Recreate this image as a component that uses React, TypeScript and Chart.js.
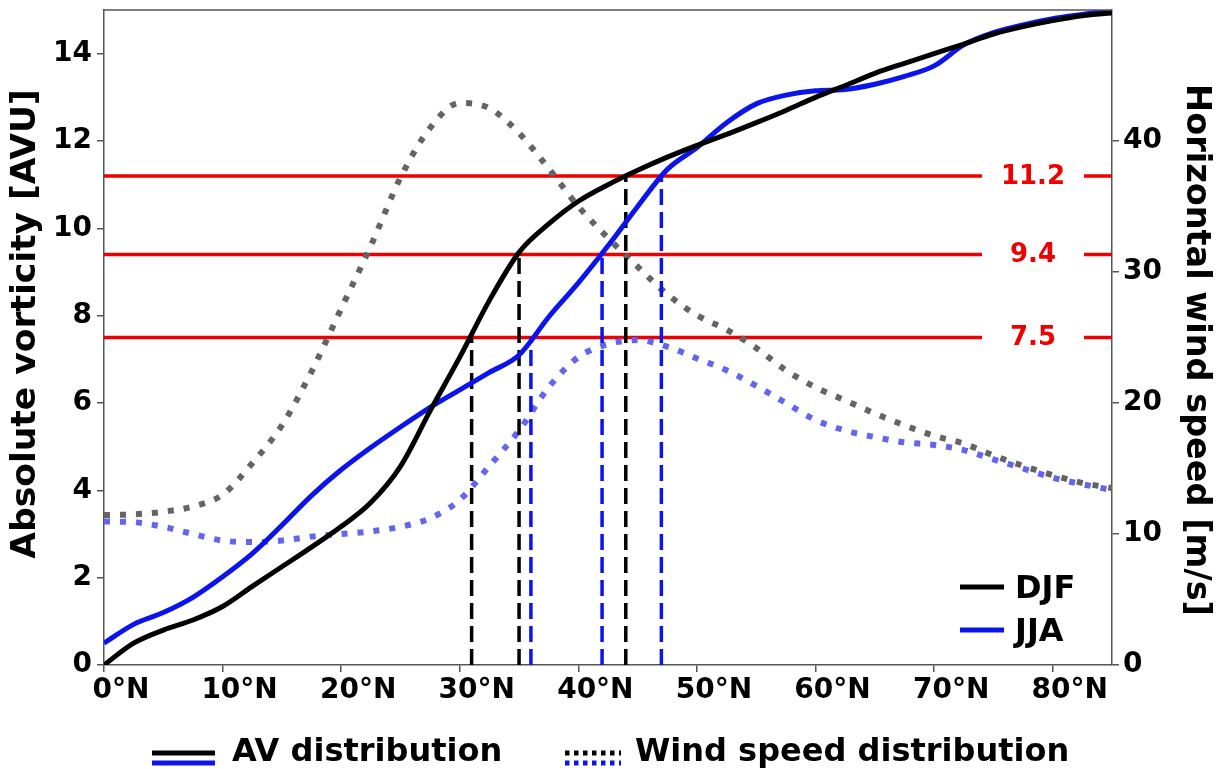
import React, { useEffect, useRef } from 'react';
import { Chart, registerables } from 'chart.js';

Chart.register(...registerables);

// ---------- data ----------
const latitudes = [0, 2.5, 5, 7.5, 10, 12.5, 15, 17.5, 20, 22.5, 25, 27.5, 30, 32.5, 35, 37.5, 40, 42.5, 45, 47.5, 50, 52.5, 55, 57.5, 60, 62.5, 65, 67.5, 70, 72.5, 75, 77.5, 80, 82.5, 85];

const djfVorticity = [0.0, 0.5, 0.8, 1.03, 1.34, 1.8, 2.25, 2.7, 3.17, 3.72, 4.55, 5.82, 7.05, 8.35, 9.45, 10.1, 10.62, 11.0, 11.33, 11.63, 11.9, 12.15, 12.42, 12.7, 13.0, 13.27, 13.55, 13.78, 14.0, 14.22, 14.45, 14.62, 14.76, 14.87, 14.93];
const jjaVorticity = [0.5, 0.93, 1.2, 1.55, 2.02, 2.55, 3.2, 3.88, 4.47, 4.98, 5.45, 5.9, 6.3, 6.7, 7.1, 7.97, 8.75, 9.6, 10.5, 11.35, 11.85, 12.42, 12.85, 13.05, 13.15, 13.18, 13.3, 13.48, 13.72, 14.2, 14.48, 14.66, 14.8, 14.9, 15.0];
const djfWind = [11.45, 11.5, 11.7, 12.1, 13.0, 15.4, 18.3, 22.4, 27.2, 32.0, 37.2, 41.0, 42.9, 42.5, 40.6, 37.9, 35.0, 32.6, 30.4, 28.3, 26.7, 25.6, 24.2, 22.5, 21.2, 20.2, 19.2, 18.3, 17.5, 16.9, 16.0, 15.2, 14.5, 13.9, 13.5];
const jjaWind = [10.95, 10.9, 10.55, 10.0, 9.5, 9.38, 9.5, 9.8, 10.0, 10.2, 10.55, 11.2, 12.6, 15.2, 17.9, 21.2, 23.5, 24.5, 24.8, 24.3, 23.4, 22.5, 21.3, 20.0, 18.7, 17.9, 17.4, 17.0, 16.8, 16.4, 15.7, 15.0, 14.3, 13.8, 13.35];

const thresholdLevels = [7.5, 9.4, 11.2];
const thresholdLabels = ['7.5', '9.4', '11.2'];
const djfCrossLat = [31, 35, 44];
const jjaCrossLat = [36, 42, 47];

const xTickValues = [0, 10, 20, 30, 40, 50, 60, 70, 80];
const yLeftTicks = [0, 2, 4, 6, 8, 10, 12, 14];
const yRightTicks = [0, 10, 20, 30, 40];

const leftTitle = 'Absolute vorticity [AVU]';
const rightTitle = 'Horizontal wind speed [m/s]';
const seasonNames = ['DJF', 'JJA'];
const bottomLegend = ['AV distribution', 'Wind speed distribution'];

// ---------- styles ----------
const FONT = "'DejaVu Sans', 'Liberation Sans', sans-serif";
const BLACK = '#000000';
const BLUE = '#0c14ee';
const GRAY_DOT = '#646464';
const BLUE_DOT = '#6464ec';
const RED = '#ee0000';
const AXIS = '#555555';

const toPoints = (xs: number[], ys: number[]) => xs.map((x, i) => ({ x, y: ys[i] }));

const overlayPlugin = {
  id: 'overlay',
  afterDatasetsDraw(chart: any) {
    const { ctx, chartArea, scales } = chart;
    ctx.save();
    ctx.font = `bold 26px ${FONT}`;
    ctx.textAlign = 'center';
    ctx.textBaseline = 'middle';
    thresholdLevels.forEach((lv, i) => {
      const y = scales.y.getPixelForValue(lv);
      const cx = chartArea.right - 79;
      ctx.fillStyle = '#ffffff';
      ctx.fillRect(cx - 51, y - 14, 102, 28);
      ctx.fillStyle = RED;
      ctx.fillText(thresholdLabels[i], cx, y + 1);
    });
    ctx.restore();
  },
  afterDraw(chart: any) {
    const { ctx, chartArea } = chart;
    ctx.save();
    // top spine
    ctx.strokeStyle = AXIS;
    ctx.lineWidth = 1.5;
    ctx.beginPath();
    ctx.moveTo(chartArea.left, chartArea.top);
    ctx.lineTo(chartArea.right, chartArea.top);
    ctx.stroke();

    // axis titles
    ctx.fillStyle = BLACK;
    ctx.textAlign = 'center';
    ctx.textBaseline = 'middle';
    ctx.save();
    ctx.font = `bold 34.5px ${FONT}`;
    ctx.translate(26, 324);
    ctx.rotate(-Math.PI / 2);
    ctx.fillText(leftTitle, 0, 0);
    ctx.restore();
    ctx.save();
    ctx.font = `bold 33.5px ${FONT}`;
    ctx.translate(1196, 350);
    ctx.rotate(Math.PI / 2);
    ctx.fillText(rightTitle, 0, 0);
    ctx.restore();

    // inner legend
    ctx.lineWidth = 5;
    ctx.setLineDash([]);
    const innerRows = [
      { y: 587, base: 598, color: BLACK },
      { y: 630, base: 641, color: BLUE },
    ];
    ctx.font = `bold 32px ${FONT}`;
    ctx.textAlign = 'left';
    ctx.textBaseline = 'alphabetic';
    innerRows.forEach((r, i) => {
      ctx.strokeStyle = r.color;
      ctx.beginPath();
      ctx.moveTo(960, r.y);
      ctx.lineTo(1004, r.y);
      ctx.stroke();
      ctx.fillStyle = BLACK;
      ctx.fillText(seasonNames[i], 1015, r.base);
    });

    // bottom legend
    ctx.lineWidth = 5;
    ctx.strokeStyle = BLACK;
    ctx.beginPath(); ctx.moveTo(152, 753); ctx.lineTo(215, 753); ctx.stroke();
    ctx.strokeStyle = BLUE;
    ctx.beginPath(); ctx.moveTo(152, 763); ctx.lineTo(215, 763); ctx.stroke();
    ctx.setLineDash([4.5, 4.5]);
    ctx.strokeStyle = BLACK;
    ctx.beginPath(); ctx.moveTo(565, 753); ctx.lineTo(621, 753); ctx.stroke();
    ctx.strokeStyle = BLUE;
    ctx.beginPath(); ctx.moveTo(565, 763); ctx.lineTo(621, 763); ctx.stroke();
    ctx.setLineDash([]);
    ctx.fillStyle = BLACK;
    ctx.font = `bold 32px ${FONT}`;
    ctx.fillText(bottomLegend[0], 232, 761);
    ctx.fillText(bottomLegend[1], 635, 761);
    ctx.restore();
  },
};

export default function App() {
  const canvasRef = useRef<HTMLCanvasElement | null>(null);

  useEffect(() => {
    if (!canvasRef.current) return;

    const verticals: any[] = [];
    djfCrossLat.forEach((lat, i) => {
      verticals.push({
        data: [{ x: lat, y: 0 }, { x: lat, y: thresholdLevels[i] }],
        borderColor: BLACK, borderWidth: 3.5, borderDash: [16, 7],
        pointRadius: 0, yAxisID: 'y', order: 3,
      });
    });
    jjaCrossLat.forEach((lat, i) => {
      verticals.push({
        data: [{ x: lat, y: 0 }, { x: lat, y: thresholdLevels[i] }],
        borderColor: BLUE, borderWidth: 3.5, borderDash: [16, 7],
        pointRadius: 0, yAxisID: 'y', order: 3,
      });
    });
    const reds = thresholdLevels.map((lv) => ({
      data: [{ x: 0, y: lv }, { x: 85, y: lv }],
      borderColor: RED, borderWidth: 3.5, pointRadius: 0, yAxisID: 'y', order: 6,
    }));

    const tickFont = { family: FONT, size: 28, weight: 'bold' as const };
    const noPadV = (axis: any) => { axis.paddingTop = 0; axis.paddingBottom = 0; };

    const chart = new Chart(canvasRef.current, {
      type: 'line',
      data: {
        datasets: [
          { label: 'DJF', data: toPoints(latitudes, djfVorticity), borderColor: BLACK, borderWidth: 5, pointRadius: 0, cubicInterpolationMode: 'monotone', yAxisID: 'y', order: 1 },
          { label: 'JJA', data: toPoints(latitudes, jjaVorticity), borderColor: BLUE, borderWidth: 5, pointRadius: 0, cubicInterpolationMode: 'monotone', yAxisID: 'y', order: 2 },
          ...verticals,
          { label: 'DJF wind', data: toPoints(latitudes, djfWind), borderColor: GRAY_DOT, borderWidth: 6, borderDash: [6, 10], pointRadius: 0, cubicInterpolationMode: 'monotone', yAxisID: 'y2', order: 4 },
          { label: 'JJA wind', data: toPoints(latitudes, jjaWind), borderColor: BLUE_DOT, borderWidth: 6, borderDash: [6, 10], pointRadius: 0, cubicInterpolationMode: 'monotone', yAxisID: 'y2', order: 5 },
          ...reds,
        ] as any,
      },
      options: {
        animation: false,
        responsive: false,
        maintainAspectRatio: false,
        layout: { padding: { top: 10, left: 0, right: 0, bottom: 0 } },
        plugins: { legend: { display: false }, tooltip: { enabled: false } },
        scales: {
          x: {
            type: 'linear', position: 'bottom', min: 0, max: 85,
            afterBuildTicks: (axis: any) => { axis.ticks = xTickValues.map((v) => ({ value: v })); },
            afterFit: (axis: any) => { axis.height = 104; axis.paddingLeft = 0; axis.paddingRight = 0; },
            ticks: { font: tickFont, color: BLACK, padding: 2, labelOffset: 17, maxRotation: 0, autoSkip: false, callback: (v: any) => `${v}°N` },
            grid: { drawOnChartArea: false, drawTicks: true, tickLength: 7, color: AXIS, lineWidth: 1.5 },
            border: { display: true, color: AXIS, width: 1.5 },
          },
          y: {
            type: 'linear', position: 'left', min: 0, max: 15,
            afterBuildTicks: (axis: any) => { axis.ticks = yLeftTicks.map((v) => ({ value: v })); },
            afterFit: (axis: any) => { axis.width = 104; noPadV(axis); },
            ticks: { font: tickFont, color: BLACK, padding: 5, autoSkip: false },
            grid: { drawOnChartArea: false, drawTicks: true, tickLength: 7, color: AXIS, lineWidth: 1.5 },
            border: { display: true, color: AXIS, width: 1.5 },
          },
          y2: {
            type: 'linear', position: 'right', min: 0, max: 50,
            afterBuildTicks: (axis: any) => { axis.ticks = yRightTicks.map((v) => ({ value: v })); },
            afterFit: (axis: any) => { axis.width = 109; noPadV(axis); },
            ticks: { font: tickFont, color: BLACK, padding: 4, autoSkip: false },
            grid: { drawOnChartArea: false, drawTicks: true, tickLength: 7, color: AXIS, lineWidth: 1.5 },
            border: { display: true, color: AXIS, width: 1.5 },
          },
        },
      },
      plugins: [overlayPlugin],
    });

    return () => chart.destroy();
  }, []);

  return (
    <div style={{ position: 'fixed', left: 0, top: 0, width: 1221, height: 769, background: '#ffffff' }}>
      <canvas ref={canvasRef} width={1221} height={769} style={{ display: 'block' }} />
    </div>
  );
}
